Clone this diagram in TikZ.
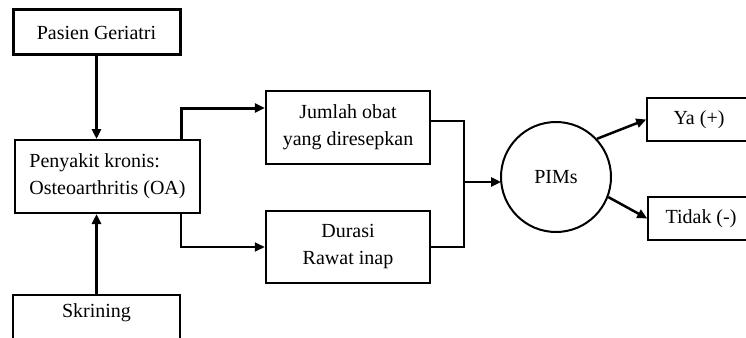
\documentclass[tikz,border=0pt]{standalone}
\usepackage{fontspec}
\setmainfont{Liberation Serif}
\usetikzlibrary{arrows.meta,positioning,calc}
\begin{document}
\begin{tikzpicture}[x=1pt,y=-1pt,
  box/.style={draw,rectangle,inner sep=0pt,font=\fontsize{20}{27}\selectfont,align=center},
  arr/.style={-{Triangle[length=10pt,width=9pt]}},
  circ/.style={draw,circle,line width=2pt,minimum size=110pt,inner sep=0pt,font=\fontsize{20}{24}\selectfont}
]
\useasboundingbox (0,0) rectangle (746,337);
\begin{scope}
\clip (0,0) rectangle (746,337);
\node[box,line width=3pt,minimum width=167pt,minimum height=45pt] (pasien) at (96.5,32.5) {Pasien Geriatri};
\node[box,line width=2pt,minimum width=185pt,minimum height=73pt,align=left] (penyakit) at (107.5,176.5) {Penyakit kronis:\\Osteoarthritis (OA)};
\node[box,line width=1.6pt,minimum width=167pt,minimum height=50pt] (skrining) at (96.5,320) {};
\node[font=\fontsize{20}{24}\selectfont] (skrtext) at (96.5,313) {Skrining};
\node[box,line width=2.2pt,minimum width=164pt,minimum height=73pt] (jumlah) at (348,127.5) {Jumlah obat\\yang diresepkan};
\node[box,line width=2.5pt,minimum width=164pt,minimum height=72pt] (durasi) at (348,247) {Durasi\\Rawat inap};
\node[circ] (pims) at (556,177) {PIMs};
\node[box,line width=1.5pt,minimum width=104pt,minimum height=43pt] (ya) at (699,119.5) {Ya (+)};
\node[box,line width=1.5pt,minimum width=106pt,minimum height=43pt] (tidak) at (701,218.5) {Tidak (-)};

\draw[arr,line width=3pt] (pasien.south) -- (pasien.south |- penyakit.north);
\draw[arr,line width=3pt] (skrining.north) -- (skrining.north |- penyakit.south);
\draw[arr,line width=3pt] ([xshift=-20pt]penyakit.north east) |- ([yshift=19.5pt]jumlah.west);
\draw[arr,line width=2pt] ([xshift=-20pt]penyakit.south east) |- (durasi.west);
\draw[line width=1.5pt] ([yshift=6.5pt]jumlah.east) -- ++(33,0) coordinate (rt) |- (durasi.east);
\coordinate (m) at ($(rt)+(0,61)$);
\draw[arr,line width=2.5pt] (m) -- (501,182);
\draw[arr,line width=2.5pt] (pims.43) -- (ya.west);
\draw[arr,line width=2.5pt] (pims.-21) -- (tidak.west);
\end{scope}
\end{tikzpicture}
\end{document}
